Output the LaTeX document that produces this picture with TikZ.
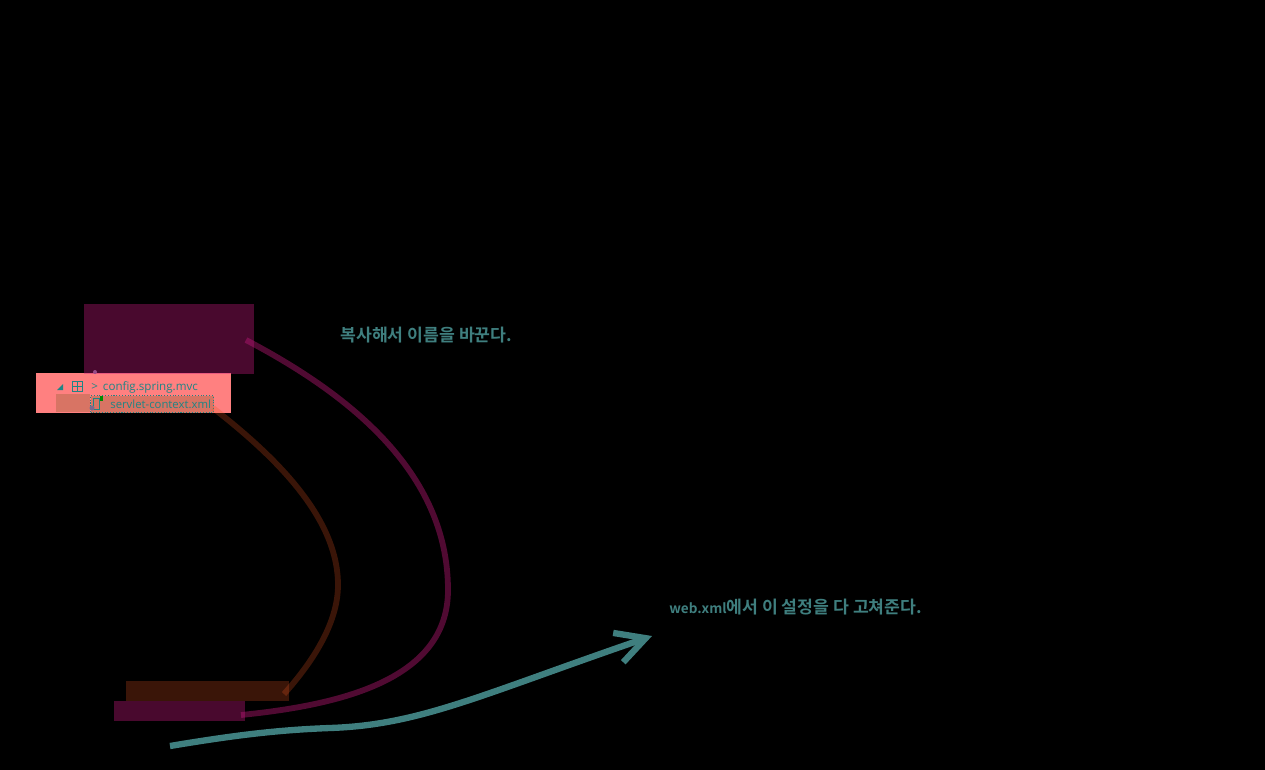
\documentclass[tikz,border=0pt]{standalone}
\usepackage{fontspec}
\newfontfamily\krfont{Noto Sans CJK KR}[BoldFont={Noto Sans CJK KR Bold}]
\setmainfont{Open Sans}
\usetikzlibrary{arrows.meta}
\definecolor{bgblack}{HTML}{000000}
\definecolor{notepink}{HTML}{C8197F}
\definecolor{notebrown}{HTML}{E85520}
\definecolor{noteteal}{HTML}{3F7F7F}
\definecolor{rowsalmon}{HTML}{FF8080}
\definecolor{rowdark}{HTML}{D87464}
\definecolor{treeteal}{HTML}{1F8585}
\definecolor{spotblue}{HTML}{7A6A90}
\tikzset{
    pinkbox/.style={fill=notepink,fill opacity=0.37,inner sep=0pt,anchor=north west},
    brownbox/.style={fill=notebrown,fill opacity=0.25,inner sep=0pt,anchor=north west},
    pinkline/.style={draw=notepink,draw opacity=0.4,line width=3.3pt},
    brownline/.style={draw=notebrown,draw opacity=0.25,line width=3.3pt},
    noteline/.style={draw=noteteal,line width=3.6pt},
    notetext/.style={text=noteteal,font=\krfont\bfseries\fontsize{9.8}{11}\selectfont,inner sep=0pt,anchor=west},
    treetext/.style={text=treeteal,font=\fontsize{6.6}{8}\selectfont,inner sep=0pt,anchor=west},
}
\begin{document}
\begin{tikzpicture}[x=0.02cm,y=-0.02cm]
    \path[use as bounding box,fill=bgblack] (0,0) rectangle (1265,770);

    % tree rows
    \node (rowBox) [fill=rowsalmon,inner sep=0pt,anchor=north west,minimum width=3.9cm,minimum height=0.8cm] at (36,373) {};
    \node (rowMark) [fill=rowdark,inner sep=0pt,anchor=north west,minimum width=0.68cm,minimum height=0.36cm] at (56,394) {};
    \node (rowFile) [fill=rowdark,draw=treeteal,densely dotted,line width=0.6pt,inner sep=0pt,anchor=north west,minimum width=2.46cm,minimum height=0.34cm] at (90,395) {};
    \fill[treeteal] (57,390) -- (63,384) -- (63,390) -- cycle;
    \draw[treeteal,line width=0.5pt] (72,381) rectangle (82,391) (77,381) -- (77,391) (72,386) -- (82,386);
    \draw[treeteal,line width=0.5pt] (93,398) -- (99,398) -- (99,409) -- (93,409) -- cycle;
    \fill[green!55!black] (100,396) rectangle (103,401);
    \fill[spotblue] (95,372) circle (2);
    \fill[spotblue] (92,408) circle (2.5);
    \node (pkgName) [treetext] at (91,387) {>\hspace{0.1cm}config.spring.mvc};
    \node (fileName) [treetext,font=\fontsize{6.45}{8}\selectfont] at (110,404.5) {servlet-context.xml};

    % boxes
    \node (copyBox) [pinkbox,minimum width=3.4cm,minimum height=1.4cm] at (84,304) {};
    \node (brownBox) [brownbox,minimum width=3.26cm,minimum height=0.4cm] at (126,681) {};
    \node (pinkBox) [pinkbox,minimum width=2.62cm,minimum height=0.4cm] at (114,701) {};

    % texts
    \node (copyNote) [notetext] at (340,335) {복사해서 이름을 바꾼다.};
    \node (webNote) [notetext] at (669,607) {{\fontsize{7.7}{11}\selectfont web.xml}에서 이 설정을 다 고쳐준다.};

    % curves
    \coordinate (pinkStart) at (246,340);
    \coordinate (pinkEnd) at (241,715);
    \coordinate (brownStart) at (213,408);
    \coordinate (brownEnd) at (284,694);
    \coordinate (tealStart) at (170,746);
    \coordinate (tealEnd) at (652,636);

    \draw[pinkline] (pinkStart) .. controls (345,392) and (448,470) .. (448,590)
        .. controls (448,680) and (340,705) .. (pinkEnd);
    \draw[brownline] (brownStart) .. controls (280,460) and (338,520) .. (338,585)
        .. controls (338,625) and (310,665) .. (brownEnd);
    \draw[noteline,-{Straight Barb[length=0.58cm,width=0.62cm]}] (tealStart) .. controls (230,736) and (275,730) .. (330,728)
        .. controls (420,725) and (480,695) .. (tealEnd);
\end{tikzpicture}
\end{document}
